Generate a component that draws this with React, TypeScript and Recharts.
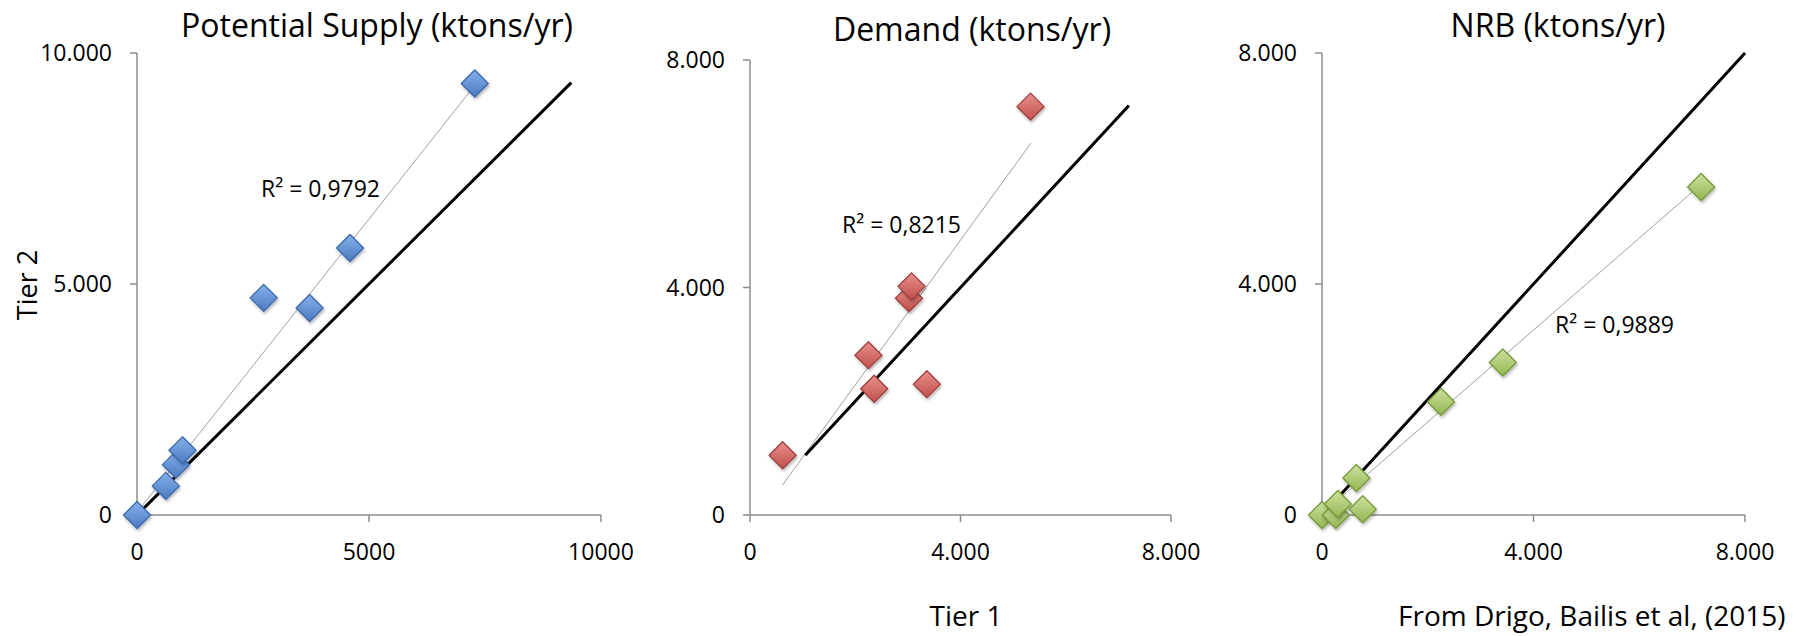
import React from 'react';
import { ScatterChart, Scatter, XAxis, YAxis } from 'recharts';

// Tier 1 (x) vs Tier 2 (y), ktons/yr
const supplyPoints = [
  { x: 0, y: 0 }, { x: 620, y: 630 }, { x: 840, y: 1090 }, { x: 980, y: 1400 },
  { x: 2730, y: 4700 }, { x: 3720, y: 4480 }, { x: 4590, y: 5780 }, { x: 7280, y: 9340 },
];
const demandPoints = [
  { x: 620, y: 1050 }, { x: 2250, y: 2810 }, { x: 2360, y: 2220 }, { x: 3020, y: 3810 },
  { x: 3070, y: 4020 }, { x: 3360, y: 2300 }, { x: 5330, y: 7180 },
];
const nrbPoints = [
  { x: 0, y: 0 }, { x: 260, y: 0 }, { x: 300, y: 190 }, { x: 770, y: 100 },
  { x: 650, y: 640 }, { x: 2250, y: 1960 }, { x: 3420, y: 2640 }, { x: 7170, y: 5680 },
];

// 1:1 lines
const supplyOneToOne = [{ x: 100, y: 100 }, { x: 9360, y: 9360 }];
const demandOneToOne = [{ x: 1050, y: 1050 }, { x: 7200, y: 7200 }];
const nrbOneToOne = [{ x: 100, y: 100 }, { x: 8000, y: 8000 }];

// linear trend lines
const supplyTrend = [{ x: 0, y: 60 }, { x: 7280, y: 9300 }];
const demandTrend = [{ x: 620, y: 530 }, { x: 5340, y: 6540 }];
const nrbTrend = [{ x: 0, y: 20 }, { x: 7170, y: 5725 }];

const supplyTicks = [0, 5000, 10000];
const smallTicks = [0, 4000, 8000];

const titles = ['Potential Supply (ktons/yr)', 'Demand (ktons/yr)', 'NRB (ktons/yr)'];
const r2Labels = ['R² = 0,9792', 'R² = 0,8215', 'R² = 0,9889'];

const FONT = '"Open Sans", sans-serif';
const AXIS = '#8c8c8c';

const dotted = (v: number) => (v === 0 ? '0' : (v / 1000).toFixed(3));
const plain = (v: number) => String(v);

const makeDiamond = (grad: string, stroke: string) => (props: any) => {
  const { cx, cy } = props;
  const r = 13.5;
  return (
    <path
      d={`M${cx},${cy - r} L${cx + r},${cy} L${cx},${cy + r} L${cx - r},${cy} Z`}
      fill={`url(#${grad})`}
      stroke={stroke}
      strokeWidth={1.3}
      filter="url(#dshadow)"
    />
  );
};

const noShape = () => <g />;

type PanelProps = {
  left: number;
  width: number;
  yAxisWidth: number;
  top: number;
  right: number;
  max: number;
  ticks: number[];
  xFmt: (v: number) => string;
  points: { x: number; y: number }[];
  oneToOne: { x: number; y: number }[];
  trend: { x: number; y: number }[];
  grad: string;
  stroke: string;
};

const Panel = (p: PanelProps) => {
  const tick = { fill: '#000', fontSize: 23, fontFamily: FONT };
  return (
    <div style={{ position: 'absolute', left: p.left, top: 0 }}>
      <ScatterChart width={p.width} height={636} margin={{ top: p.top, right: p.right, bottom: 81, left: 0 }}>
        <XAxis
          type="number"
          dataKey="x"
          domain={[0, p.max]}
          ticks={p.ticks}
          interval={0}
          tickFormatter={p.xFmt}
          height={40}
          tickSize={7}
          tickMargin={22}
          tick={tick}
          axisLine={{ stroke: AXIS, strokeWidth: 1.5 }}
          tickLine={{ stroke: AXIS, strokeWidth: 1.5 }}
        />
        <YAxis
          type="number"
          dataKey="y"
          domain={[0, p.max]}
          ticks={p.ticks}
          interval={0}
          tickFormatter={dotted}
          width={p.yAxisWidth}
          tickSize={7}
          tickMargin={18}
          tick={tick}
          axisLine={{ stroke: AXIS, strokeWidth: 1.5 }}
          tickLine={{ stroke: AXIS, strokeWidth: 1.5 }}
        />
        <Scatter data={p.trend} fill="#999" line={{ stroke: '#a0a0a0', strokeWidth: 1 }} shape={noShape} isAnimationActive={false} />
        <Scatter data={p.oneToOne} fill="#000" line={{ stroke: '#000', strokeWidth: 3 }} shape={noShape} isAnimationActive={false} />
        <Scatter data={p.points} fill="#4f81bd" shape={makeDiamond(p.grad, p.stroke)} isAnimationActive={false} />
      </ScatterChart>
    </div>
  );
};

export default function App() {
  return (
    <div style={{ position: 'absolute', left: 0, top: 0, width: 1803, height: 636, background: '#fff', overflow: 'hidden' }}>
      <svg width={0} height={0} style={{ position: 'absolute' }}>
        <defs>
          <linearGradient id="gBlue" x1="0" y1="0" x2="0" y2="1">
            <stop offset="0%" stopColor="#86b0ea" />
            <stop offset="100%" stopColor="#4a7bc2" />
          </linearGradient>
          <linearGradient id="gRed" x1="0" y1="0" x2="0" y2="1">
            <stop offset="0%" stopColor="#e8908c" />
            <stop offset="100%" stopColor="#c0504d" />
          </linearGradient>
          <linearGradient id="gGreen" x1="0" y1="0" x2="0" y2="1">
            <stop offset="0%" stopColor="#cde19f" />
            <stop offset="100%" stopColor="#95b653" />
          </linearGradient>
          <filter id="dshadow" x="-50%" y="-50%" width="200%" height="200%">
            <feDropShadow dx="1" dy="2" stdDeviation="1.5" floodColor="#000" floodOpacity="0.3" />
          </filter>
        </defs>
      </svg>

      <Panel left={0} width={640} yAxisWidth={137} top={53} right={39} max={10000} ticks={supplyTicks} xFmt={plain}
        points={supplyPoints} oneToOne={supplyOneToOne} trend={supplyTrend} grad="gBlue" stroke="#3d6aad" />
      <Panel left={620} width={600} yAxisWidth={130} top={60} right={49} max={8000} ticks={smallTicks} xFmt={dotted}
        points={demandPoints} oneToOne={demandOneToOne} trend={demandTrend} grad="gRed" stroke="#a0403d" />
      <Panel left={1220} width={583} yAxisWidth={102} top={53} right={58} max={8000} ticks={smallTicks} xFmt={dotted}
        points={nrbPoints} oneToOne={nrbOneToOne} trend={nrbTrend} grad="gGreen" stroke="#789a3a" />

      <svg width={1803} height={636} style={{ position: 'absolute', left: 0, top: 0, pointerEvents: 'none' }}
        fontFamily={FONT} fill="#000">
        <text x={377} y={37} fontSize={32} textAnchor="middle">{titles[0]}</text>
        <text x={972} y={41} fontSize={32} textAnchor="middle">{titles[1]}</text>
        <text x={1558} y={37} fontSize={32} textAnchor="middle">{titles[2]}</text>
        <text x={261} y={197} fontSize={23}>{r2Labels[0]}</text>
        <text x={842} y={233} fontSize={23}>{r2Labels[1]}</text>
        <text x={1555} y={333} fontSize={23}>{r2Labels[2]}</text>
        <text x={37} y={285} fontSize={27} textAnchor="middle" transform="rotate(-90 37 285)">Tier 2</text>
        <text x={966} y={626} fontSize={28} textAnchor="middle">Tier 1</text>
        <text x={1398} y={626} fontSize={28}>From Drigo, Bailis et al, (2015)</text>
      </svg>
    </div>
  );
}
